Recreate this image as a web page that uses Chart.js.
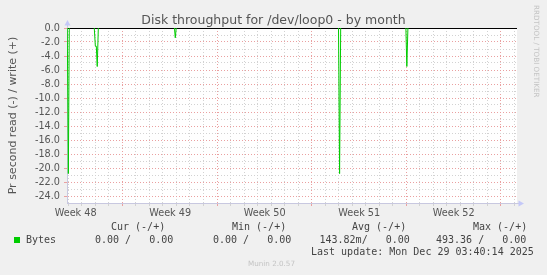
<!DOCTYPE html>
<html>
<head>
<meta charset="utf-8">
<script src="https://cdn.jsdelivr.net/npm/chart.js@4.4.1/dist/chart.umd.min.js"></script>
<style>
  html, body { margin: 0; padding: 0; background: #f0f0f0; }
  #wrap { position: relative; width: 547px; height: 275px; overflow: hidden; }
  canvas { position: absolute; left: 0; top: 0; }
  #title { position: absolute; left: 0; top: 11.5px; width: 547px; text-align: center;
           font-family: "DejaVu Sans", sans-serif; font-size: 12.5px; line-height: 15px; color: #555; }
  .lg { position: absolute; font-family: "DejaVu Sans Mono", monospace; font-size: 10px;
        line-height: 12px; color: #444; white-space: pre; }
  .sig { position: absolute; font-family: "DejaVu Sans", sans-serif; font-size: 7.2px;
         line-height: 9px; color: #c4c4c4; white-space: pre; }
  #swatch { position: absolute; left: 14px; top: 237px; width: 6px; height: 6px; background: #00cc00; }
</style>
</head>
<body>
<div id="wrap">
  <canvas id="munin" width="547" height="275"></canvas>
  <div id="title">Disk throughput for /dev/loop0 - by month</div>

  <div class="lg" style="left:111px; top:221px">Cur (-/+)</div>
  <div class="lg" style="left:232px; top:221px">Min (-/+)</div>
  <div class="lg" style="left:352px; top:221px">Avg (-/+)</div>
  <div class="lg" style="left:473px; top:221px">Max (-/+)</div>

  <div id="swatch"></div>
  <div class="lg" style="left:26px; top:233.5px">Bytes</div>
  <div class="lg" style="left:95px; top:233.5px" id="lgCur"></div>
  <div class="lg" style="left:213px; top:233.5px" id="lgMin"></div>
  <div class="lg" style="left:319.5px; top:233.5px" id="lgAvg"></div>
  <div class="lg" style="left:436px; top:233.5px" id="lgMax"></div>

  <div class="lg" style="left:311px; top:245.5px">Last update: Mon Dec 29 03:40:14 2025</div>
  <div class="sig" style="left:248px; top:259px">Munin 2.0.57</div>
  <div class="sig" style="left:532px; top:5px; writing-mode: vertical-rl;">RRDTOOL / TOBI OETIKER</div>
</div>

<script>
    // Trục x tính theo ngày kể từ mép trái của đồ thị
    const rangeDays = 33.33;
    const firstMidnight = 0.11;              // vạch lưới ngày đầu tiên
    const weekStarts = [4.11, 11.11, 18.11, 25.11, 32.11];
    const weekLabelDays = [0.64, 7.64, 14.64, 21.64, 28.64];
    const weekLabels = ['Week 48', 'Week 49', 'Week 50', 'Week 51', 'Week 52'];

    // Số liệu đọc (-) — null để ngắt đoạn giữa các đỉnh
    const readDays   = [0.02, 0.10, 0.17, 1.0, 2.02, 2.10, 2.17, 2.24, 2.32, 5.0, 7.96, 8.02, 8.09, 14.0, 20.11, 20.19, 20.27, 22.0, 25.10, 25.17, 25.25];
    const readValues = [0, -20.8, 0, null, 0, -2.6, -2.6, -5.5, 0, null, 0, -1.4, 0, null, 0, -20.8, 0, null, 0, -5.5, 0];

    // Bảng chú thích
    const legendCur = ['0.00', '0.00'];
    const legendMin = ['0.00', '0.00'];
    const legendAvg = ['143.82m', '0.00'];
    const legendMax = ['493.36', '0.00'];

    function legendCell(pair) {
        const left = pair[0].endsWith('m') ? pair[0] + '/' : pair[0] + ' /';
        return left + ' '.repeat(Math.max(1, 7 - pair[1].length)) + pair[1];
    }
    document.getElementById('lgCur').textContent = legendCell(legendCur);
    document.getElementById('lgMin').textContent = legendCell(legendMin);
    document.getElementById('lgAvg').textContent = legendCell(legendAvg);
    document.getElementById('lgMax').textContent = legendCell(legendMax);

    const minorGrid = '#d2d2d2';
    const majorGrid = '#eaa0a0';
    const axisColor = '#c8c8e0';
    const arrowColor = '#c4c8f8';

    // Các vạch trên trục x: lưới ngày + vị trí nhãn tuần
    const xTicks = [];
    for (let d = firstMidnight; d < rangeDays; d += 1) xTicks.push({ value: +d.toFixed(2) });
    weekLabelDays.forEach(d => xTicks.push({ value: d }));
    xTicks.sort((a, b) => a.value - b.value);

    const isWeekStart = v => weekStarts.some(w => Math.abs(w - v) < 0.01);
    const labelIndex = v => weekLabelDays.findIndex(w => Math.abs(w - v) < 0.01);

    // Nền trắng cho vùng vẽ và các mũi tên trục
    const frame = {
        id: 'frame',
        beforeDraw(chart) {
            const a = chart.chartArea, c = chart.ctx;
            c.save();
            c.fillStyle = '#ffffff';
            c.fillRect(a.left, a.top, a.right - a.left, a.bottom - a.top);
            c.restore();
        },
        afterDraw(chart) {
            const a = chart.chartArea, c = chart.ctx;
            c.save();
            c.strokeStyle = axisColor;
            c.lineWidth = 1;
            c.beginPath();
            c.moveTo(a.left + 0.5, a.top); c.lineTo(a.left + 0.5, a.top - 3);
            c.moveTo(a.right, a.bottom + 0.5); c.lineTo(a.right + 2, a.bottom + 0.5);
            c.stroke();
            c.fillStyle = arrowColor;
            c.beginPath();
            c.moveTo(a.left + 0.5, a.top - 8);
            c.lineTo(a.left - 2.5, a.top - 2.5);
            c.lineTo(a.left + 3.5, a.top - 2.5);
            c.closePath(); c.fill();
            c.beginPath();
            c.moveTo(a.right + 7, a.bottom + 0.5);
            c.lineTo(a.right + 1.5, a.bottom - 2.5);
            c.lineTo(a.right + 1.5, a.bottom + 3.5);
            c.closePath(); c.fill();
            c.restore();
        }
    };

    const ctx = document.getElementById('munin').getContext('2d');
    const muninChart = new Chart(ctx, {
        type: 'line',
        data: {
            datasets: [{
                label: 'Bytes',
                data: readDays.map((d, i) => ({ x: d, y: readValues[i] })),
                borderColor: '#00cc00',
                borderWidth: 1,
                pointRadius: 0,
                tension: 0,
                spanGaps: false,
                fill: false
            }]
        },
        options: {
            responsive: false,
            animation: false,
            devicePixelRatio: 1,
            layout: { padding: { left: 0, right: 30, top: 28, bottom: 52 } },
            plugins: {
                legend: { display: false },
                tooltip: { enabled: false },
                title: { display: false }
            },
            scales: {
                x: {
                    type: 'linear',
                    min: 0,
                    max: rangeDays,
                    afterFit(scale) { scale.height = 20; },
                    afterBuildTicks(scale) { scale.ticks = xTicks.map(t => ({ value: t.value })); },
                    ticks: {
                        autoSkip: false,
                        maxRotation: 0,
                        padding: 2,
                        color: '#555',
                        font: { family: 'DejaVu Sans', size: 9.7 },
                        callback: v => { const i = labelIndex(v); return i >= 0 ? weekLabels[i] : ''; }
                    },
                    grid: {
                        tickLength: 3,
                        color: c => labelIndex(c.tick.value) >= 0 ? 'rgba(0,0,0,0)' : (isWeekStart(c.tick.value) ? majorGrid : minorGrid),
                        tickColor: c => labelIndex(c.tick.value) >= 0 ? 'rgba(0,0,0,0)' : (isWeekStart(c.tick.value) ? majorGrid : minorGrid)
                    },
                    border: { color: axisColor, width: 1, dash: [1, 2] }
                },
                y: {
                    min: -25,
                    max: 0,
                    afterFit(scale) { scale.width = 67; },
                    ticks: {
                        stepSize: 1,
                        autoSkip: false,
                        padding: 4,
                        color: '#555',
                        font: { family: 'DejaVu Sans', size: 9.7 },
                        callback: v => (v % 2 === 0 ? v.toFixed(1) : '')
                    },
                    grid: {
                        tickLength: 3,
                        color: c => {
                            const v = c.tick.value;
                            if (v === 0) return '#000000';
                            if (v === -25) return 'rgba(0,0,0,0)';
                            return v % 2 === 0 ? majorGrid : minorGrid;
                        },
                        tickColor: c => (c.tick.value % 2 === 0 ? majorGrid : 'rgba(0,0,0,0)')
                    },
                    border: {
                        color: axisColor,
                        width: 1,
                        dash: c => (c.tick && c.tick.value === 0 ? [] : [1, 2])
                    },
                    title: {
                        display: true,
                        text: 'Pr second read (-) / write (+)',
                        color: '#555',
                        font: { family: 'DejaVu Sans', size: 11 },
                        padding: { top: 7, bottom: 0 }
                    }
                }
            }
        },
        plugins: [frame]
    });
</script>
</body>
</html>
